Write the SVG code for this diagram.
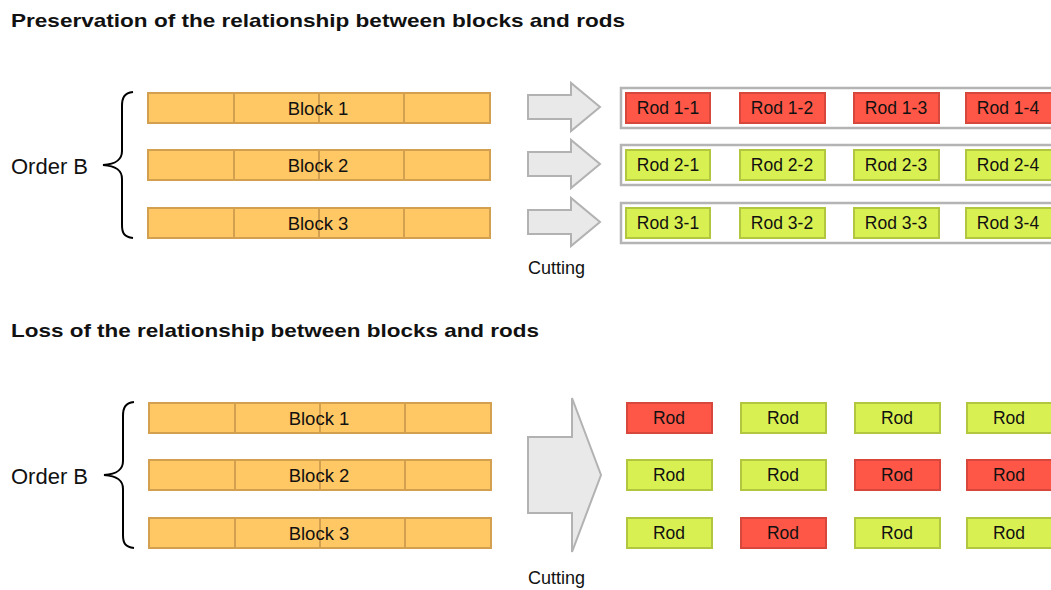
<svg xmlns="http://www.w3.org/2000/svg" width="1051" height="590" viewBox="0 0 1051 590">
  <style>
    text { font-family: "Liberation Sans", Arial, sans-serif; fill: #111; }
    .title { font-size: 19px; font-weight: bold; }
    .order { font-size: 22px; }
    .lbl { font-size: 17.5px; text-anchor: middle; }
    .blbl { font-size: 18.5px; text-anchor: middle; }
    .cut { font-size: 18px; }
    .block { fill: #FFC864; stroke: #D3A04F; stroke-width: 2; }
    .div { stroke: #D3A04F; stroke-width: 2; }
    .frame { fill: #FFFFFF; stroke: #B4B4B4; stroke-width: 2.5; }
    .red { fill: #FF5747; stroke: #D8473B; stroke-width: 2; }
    .green { fill: #D9F052; stroke: #B2C640; stroke-width: 2; }
    .arrow { fill: #E9E9E9; stroke: #B2B2B2; stroke-width: 2; stroke-linejoin: miter; }
    .brace { fill: none; stroke: #000; stroke-width: 2; }
  </style>
  <defs>
    <!-- a block: orange bar split into four segments -->
    <g id="blockShape">
      <rect class="block" x="0" y="0" width="342" height="30"/>
      <line class="div" x1="86" y1="0" x2="86" y2="30"/>
      <line class="div" x1="171" y1="0" x2="171" y2="30"/>
      <line class="div" x1="256" y1="0" x2="256" y2="30"/>
    </g>
  </defs>

  <!-- ===== Section 1: relationship preserved ===== -->
  <text class="title" x="11" y="27" textLength="614" lengthAdjust="spacingAndGlyphs">Preservation of the relationship between blocks and rods</text>

  <g id="order-b-top">
    <path class="brace" d="M133,92 C124,93 122,98 122,106 L122,151 C122,160 116,164 103,165 C116,166 122,170 122,179 L122,225 C122,233 124,237 133,238"/>
    <text class="order" x="11" y="174">Order B</text>
  </g>

  <g id="block-1-top">
    <use href="#blockShape" x="148" y="93"/>
    <text class="blbl" x="318" y="115">Block 1</text>
  </g>
  <g id="block-2-top">
    <use href="#blockShape" x="148" y="150"/>
    <text class="blbl" x="318" y="172">Block 2</text>
  </g>
  <g id="block-3-top">
    <use href="#blockShape" x="148" y="208"/>
    <text class="blbl" x="318" y="230">Block 3</text>
  </g>

  <g id="connectors-top">
    <path class="arrow" d="M528,95 L571,95 L571,83 L600,107 L571,131 L571,119 L528,119 Z"/>
    <path class="arrow" d="M528,152 L571,152 L571,140 L600,164 L571,188 L571,176 L528,176 Z"/>
    <path class="arrow" d="M528,210 L571,210 L571,198 L600,222 L571,246 L571,234 L528,234 Z"/>
  </g>
  <text class="cut" x="528" y="274">Cutting</text>

  <g id="rods-row-1">
    <rect class="frame" x="621" y="88" width="440" height="40"/>
    <rect class="red" x="626" y="93" width="84" height="30"/>
    <text class="lbl" x="668" y="114">Rod 1-1</text>
    <rect class="red" x="740" y="93" width="85" height="30"/>
    <text class="lbl" x="782" y="114">Rod 1-2</text>
    <rect class="red" x="854" y="93" width="85" height="30"/>
    <text class="lbl" x="896" y="114">Rod 1-3</text>
    <rect class="red" x="966" y="93" width="90" height="30"/>
    <text class="lbl" x="1008" y="114">Rod 1-4</text>
  </g>
  <g id="rods-row-2">
    <rect class="frame" x="621" y="145" width="440" height="40"/>
    <rect class="green" x="626" y="150" width="84" height="30"/>
    <text class="lbl" x="668" y="171">Rod 2-1</text>
    <rect class="green" x="740" y="150" width="85" height="30"/>
    <text class="lbl" x="782" y="171">Rod 2-2</text>
    <rect class="green" x="854" y="150" width="85" height="30"/>
    <text class="lbl" x="896" y="171">Rod 2-3</text>
    <rect class="green" x="966" y="150" width="90" height="30"/>
    <text class="lbl" x="1008" y="171">Rod 2-4</text>
  </g>
  <g id="rods-row-3">
    <rect class="frame" x="621" y="203" width="440" height="40"/>
    <rect class="green" x="626" y="208" width="84" height="30"/>
    <text class="lbl" x="668" y="229">Rod 3-1</text>
    <rect class="green" x="740" y="208" width="85" height="30"/>
    <text class="lbl" x="782" y="229">Rod 3-2</text>
    <rect class="green" x="854" y="208" width="85" height="30"/>
    <text class="lbl" x="896" y="229">Rod 3-3</text>
    <rect class="green" x="966" y="208" width="90" height="30"/>
    <text class="lbl" x="1008" y="229">Rod 3-4</text>
  </g>

  <!-- ===== Section 2: relationship lost ===== -->
  <text class="title" x="11" y="337" textLength="528" lengthAdjust="spacingAndGlyphs">Loss of the relationship between blocks and rods</text>

  <g id="order-b-bottom">
    <path class="brace" d="M134,402 C125,403 123,408 123,416 L123,461 C123,470 117,474 104,475 C117,476 123,480 123,489 L123,535 C123,543 125,547 134,548"/>
    <text class="order" x="11" y="484">Order B</text>
  </g>

  <g id="block-1-bottom">
    <use href="#blockShape" x="149" y="403"/>
    <text class="blbl" x="319" y="425">Block 1</text>
  </g>
  <g id="block-2-bottom">
    <use href="#blockShape" x="149" y="460"/>
    <text class="blbl" x="319" y="482">Block 2</text>
  </g>
  <g id="block-3-bottom">
    <use href="#blockShape" x="149" y="518"/>
    <text class="blbl" x="319" y="540">Block 3</text>
  </g>

  <g id="connectors-bottom">
    <path class="arrow" d="M528,437 L572,437 L572,398 L601,475 L572,552 L572,513 L528,513 Z"/>
  </g>
  <text class="cut" x="528" y="584">Cutting</text>

  <g id="rods-mixed">
    <rect class="red" x="627" y="403" width="85" height="30"/>
    <text class="lbl" x="669" y="424">Rod</text>
    <rect class="green" x="741" y="403" width="85" height="30"/>
    <text class="lbl" x="783" y="424">Rod</text>
    <rect class="green" x="855" y="403" width="85" height="30"/>
    <text class="lbl" x="897" y="424">Rod</text>
    <rect class="green" x="967" y="403" width="90" height="30"/>
    <text class="lbl" x="1009" y="424">Rod</text>

    <rect class="green" x="627" y="460" width="85" height="30"/>
    <text class="lbl" x="669" y="481">Rod</text>
    <rect class="green" x="741" y="460" width="85" height="30"/>
    <text class="lbl" x="783" y="481">Rod</text>
    <rect class="red" x="855" y="460" width="85" height="30"/>
    <text class="lbl" x="897" y="481">Rod</text>
    <rect class="red" x="967" y="460" width="90" height="30"/>
    <text class="lbl" x="1009" y="481">Rod</text>

    <rect class="green" x="627" y="518" width="85" height="30"/>
    <text class="lbl" x="669" y="539">Rod</text>
    <rect class="red" x="741" y="518" width="85" height="30"/>
    <text class="lbl" x="783" y="539">Rod</text>
    <rect class="green" x="855" y="518" width="85" height="30"/>
    <text class="lbl" x="897" y="539">Rod</text>
    <rect class="green" x="967" y="518" width="90" height="30"/>
    <text class="lbl" x="1009" y="539">Rod</text>
  </g>
</svg>
